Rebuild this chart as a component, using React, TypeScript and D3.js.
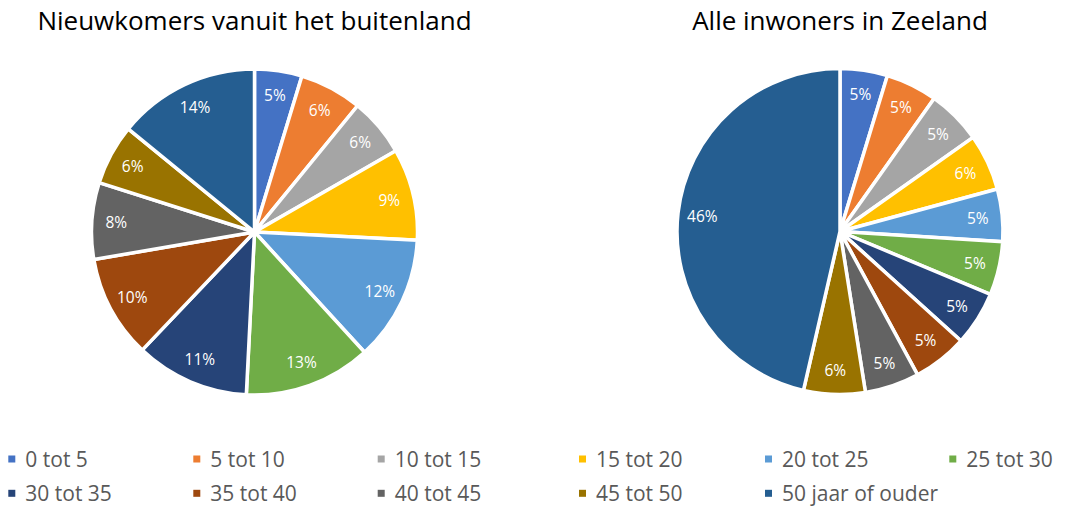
import React from "react";
import * as d3 from "d3";

const categories = [
  "0 tot 5", "5 tot 10", "10 tot 15", "15 tot 20", "20 tot 25", "25 tot 30",
  "30 tot 35", "35 tot 40", "40 tot 45", "45 tot 50", "50 jaar of ouder",
];
const nieuwkomers = [4.7, 6.2, 5.8, 9.1, 12.4, 12.6, 11.3, 10.2, 7.6, 6.0, 14.1];
const inwoners = [4.7, 5.1, 5.4, 5.6, 5.2, 5.3, 5.4, 5.4, 5.4, 6.1, 46.4];
const titles = ["Nieuwkomers vanuit het buitenland", "Alle inwoners in Zeeland"];
const colors = [
  "#4472C4", "#ED7D31", "#A5A5A5", "#FFC000", "#5B9BD5", "#70AD47",
  "#264478", "#9E480E", "#636363", "#997300", "#255E91",
];

const FONT = "'Open Sans', sans-serif";
const R = 163;

function Pie({ cx, cy, values, title }: { cx: number; cy: number; values: number[]; title: string }) {
  const pie = d3.pie<number>().sort(null).value((d) => d);
  const arcs = pie(values);
  const arc = d3.arc<d3.PieArcDatum<number>>().innerRadius(0).outerRadius(R);
  const labelArc = d3.arc<d3.PieArcDatum<number>>().innerRadius(R * 0.85).outerRadius(R * 0.85);
  return (
    <g>
      <text x={cx} y={30} textAnchor="middle" fontFamily={FONT} fontSize={26} fill="#000">
        {title}
      </text>
      <g transform={`translate(${cx},${cy})`}>
        {arcs.map((a, i) => (
          <path key={i} d={arc(a) || ""} fill={colors[i]} stroke="#fff" strokeWidth={3.5} strokeLinejoin="miter" />
        ))}
        {arcs.map((a, i) => {
          const [x, y] = labelArc.centroid(a);
          return (
            <text key={"l" + i} x={x} y={y} textAnchor="middle" dominantBaseline="central"
              fontFamily={FONT} fontSize={15.5} fill="#fff">
              {Math.round(a.data) + "%"}
            </text>
          );
        })}
      </g>
    </g>
  );
}

export default function App() {
  const colX = [8.3, 193.3, 377.7, 579, 765, 949.3];
  const rowY = [459, 493.3];
  return (
    <div style={{ position: "absolute", left: 0, top: 0 }}>
      <svg width={1067} height={506} style={{ display: "block", background: "#fff" }}>
        <Pie cx={254.5} cy={232} values={nieuwkomers} title={titles[0]} />
        <Pie cx={840} cy={231.5} values={inwoners} title={titles[1]} />
        {categories.map((c, i) => {
          const col = i % 6;
          const row = Math.floor(i / 6);
          const x = colX[col];
          const y = rowY[row];
          return (
            <g key={c}>
              <rect x={x} y={y - 3.5} width={7} height={7} fill={colors[i]} />
              <text x={x + 17} y={y} dominantBaseline="central" fontFamily={FONT} fontSize={21} fill="#595959">
                {c}
              </text>
            </g>
          );
        })}
      </svg>
    </div>
  );
}
